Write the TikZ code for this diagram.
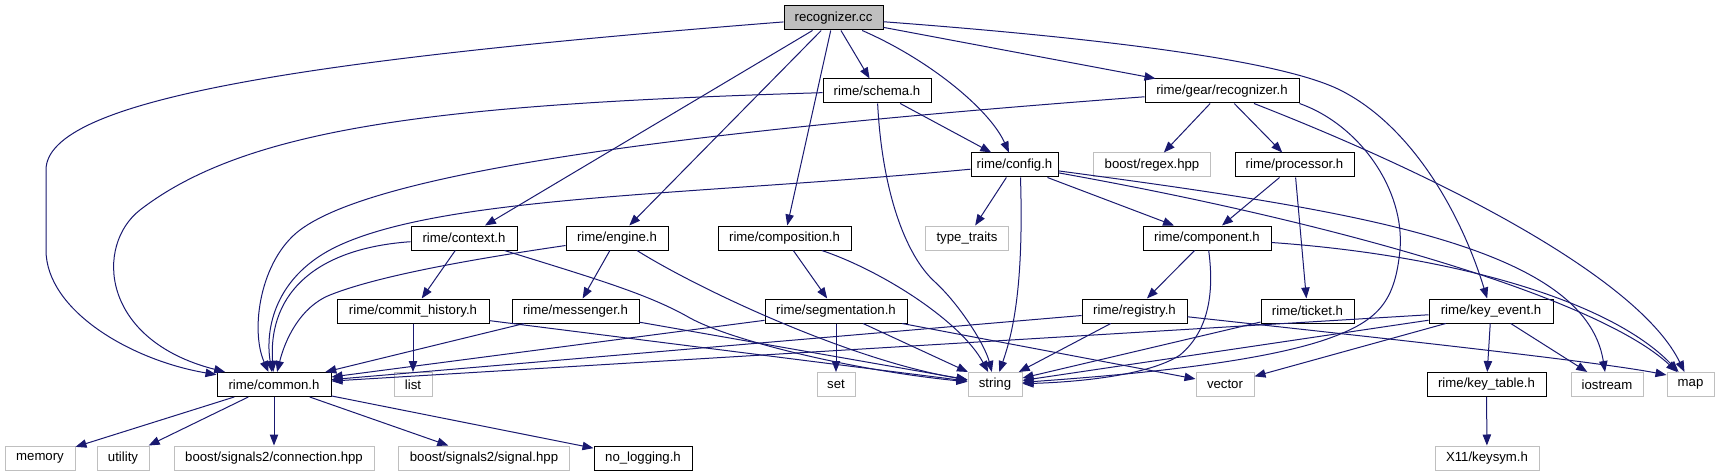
\documentclass[tikz,border=0pt]{standalone}
\usepackage{fontspec}
\setmainfont{Liberation Sans}
\usetikzlibrary{arrows.meta}
\definecolor{edgec}{HTML}{191970}
\definecolor{grayb}{HTML}{BFBFBF}
\begin{document}
\begin{tikzpicture}[x=0.5pt,y=-0.5pt,
  box/.style={rectangle, draw=black, line width=0.5pt, minimum height=12pt, inner sep=0pt, font=\fontsize{6.6}{8}\selectfont},
  ext/.style={box, draw=grayb},
  root/.style={box, fill=grayb},
  dep/.style={draw=edgec, line width=0.5pt, -{Triangle[length=5.5pt,width=4.2pt]}}]
\useasboundingbox[fill=white] (0,0) rectangle (1720,476);
% row 1
\node[root, minimum width=49.5pt] (cc) at (833.5,18) {recognizer.cc};
% row 2
\node[box, minimum width=54pt] (schema) at (877,91) {rime/schema.h};
\node[box, minimum width=77pt] (gear) at (1222,91) {rime/gear/recognizer.h};
% row 3
\node[box, minimum width=43.5pt] (config) at (1014.5,165) {rime/config.h};
\node[ext, minimum width=58.5pt] (regex) at (1152,165) {boost/regex.hpp};
\node[box, minimum width=59.5pt] (processor) at (1294.5,165) {rime/processor.h};
% row 4
\node[box, minimum width=53pt] (context) at (464,238) {rime/context.h};
\node[box, minimum width=51pt] (engine) at (617,238) {rime/engine.h};
\node[box, minimum width=66.5pt] (composition) at (784.5,238) {rime/composition.h};
\node[ext, minimum width=41.5pt] (typetraits) at (967,238) {type\_traits};
\node[box, minimum width=64pt] (component) at (1207,238) {rime/component.h};
% row 5
\node[box, minimum width=76pt] (commit) at (413,311) {rime/commit\_history.h};
\node[box, minimum width=63.5pt] (messenger) at (575.5,311) {rime/messenger.h};
\node[box, minimum width=71pt] (segmentation) at (836,311) {rime/segmentation.h};
\node[box, minimum width=52.5pt] (registry) at (1134.5,311) {rime/registry.h};
\node[box, minimum width=46.5pt] (ticket) at (1307.5,311) {rime/ticket.h};
\node[box, minimum width=62pt] (keyevent) at (1491,311) {rime/key\_event.h};
% row 6
\node[box, minimum width=57pt] (common) at (274,384.5) {rime/common.h};
\node[ext, minimum width=19pt] (list) at (413,384.5) {list};
\node[ext, minimum width=19pt] (set) at (836,384.5) {set};
\node[ext, minimum width=27pt] (string) at (995,384.5) {string};
\node[ext, minimum width=29pt] (vector) at (1225,384.5) {vector};
\node[box, minimum width=59.5pt] (keytable) at (1486.5,384.5) {rime/key\_table.h};
\node[ext, minimum width=36pt] (iostream) at (1607,384.5) {iostream};
\node[ext, minimum width=23.5pt] (map) at (1690.5,384.5) {map};
% row 7
\node[ext, minimum width=35pt] (memory) at (40,458) {memory};
\node[ext, minimum width=26pt] (utility) at (123,458) {utility};
\node[ext, minimum width=100pt] (connection) at (274,458) {boost/signals2/connection.hpp};
\node[ext, minimum width=85.5pt] (signal) at (484,458) {boost/signals2/signal.hpp};
\node[box, minimum width=49pt] (nologging) at (643,458) {no\_logging.h};
\node[ext, minimum width=52pt] (keysym) at (1487,458) {X11/keysym.h};

% recognizer.cc
\draw[dep] (cc) .. controls (300,60) and (46,100) .. (46,170) -- (46,250) .. controls (46,310) and (130,360) .. (common);
\draw[dep] (cc) -- (context);
\draw[dep] (cc) -- (engine);
\draw[dep] (cc) -- (composition);
\draw[dep] (cc) -- (schema);
\draw[dep] (cc) .. controls (930,60) and (990,110) .. (config);
\draw[dep] (cc) -- (gear);
\draw[dep] (cc) .. controls (1100,38) and (1280,60) .. (1340,90) .. controls (1410,125) and (1460,210) .. (keyevent);
% schema
\draw[dep] (schema) .. controls (450,104) and (250,125) .. (140,210) .. controls (95,245) and (100,340) .. (common);
\draw[dep] (schema) -- (config);
\draw[dep] (schema) .. controls (882,190) and (905,255) .. (935,282) .. controls (960,305) and (985,345) .. (string);
% gear/recognizer
\draw[dep] (gear) .. controls (700,130) and (380,170) .. (300,230) .. controls (260,260) and (250,330) .. (common);
\draw[dep] (gear) -- (regex);
\draw[dep] (gear) -- (processor);
\draw[dep] (gear.south east) .. controls (1360,125) and (1405,190) .. (1400,250) .. controls (1395,300) and (1380,320) .. (1330,338) .. controls (1250,367) and (1080,378) .. (string);
\draw[dep] (gear) .. controls (1450,180) and (1640,280) .. (map);
% config
\draw[dep] (config) .. controls (700,195) and (450,195) .. (340,245) .. controls (274,275) and (265,330) .. (common);
\draw[dep] (config) -- (typetraits);
\draw[dep] ([xshift=3pt]config.south) .. controls (1024,290) and (1012,335) .. (string);
\draw[dep] (config) -- (component);
\draw[dep] (config) .. controls (1350,210) and (1585,245) .. (iostream);
\draw[dep] (config) .. controls (1350,225) and (1600,300) .. (map);
% processor
\draw[dep] (processor) -- (component);
\draw[dep] (processor) -- (ticket);
% component
\draw[dep] (component) -- (registry);
\draw[dep] (component) .. controls (1214,290) and (1210,330) .. (1180,355) .. controls (1150,375) and (1080,382) .. (string);
\draw[dep] (component) .. controls (1450,255) and (1610,300) .. (map);
% context
\draw[dep] (context) .. controls (320,248) and (268,290) .. (common);
\draw[dep] (context) -- (commit);
\draw[dep] (context) .. controls (600,280) and (650,295) .. (690,318) .. controls (730,340) and (850,370) .. (string);
% engine
\draw[dep] (engine) .. controls (480,258) and (380,275) .. (330,295) .. controls (300,307) and (285,340) .. (common);
\draw[dep] (engine) -- (messenger);
\draw[dep] (engine) .. controls (700,290) and (850,360) .. (string);
% composition
\draw[dep] (composition) -- (segmentation);
\draw[dep] (composition) .. controls (880,270) and (960,320) .. (string);
% commit history
\draw[dep] (commit) -- (list);
\draw[dep] (commit) -- (string);
% messenger
\draw[dep] (messenger) -- (common);
\draw[dep] (messenger) -- (string);
% segmentation
\draw[dep] (segmentation) -- (common);
\draw[dep] (segmentation) -- (set);
\draw[dep] (segmentation) -- (string);
\draw[dep] (segmentation) -- (vector);
% registry
\draw[dep] (registry) -- (common);
\draw[dep] (registry) -- (string);
\draw[dep] (registry) .. controls (1400,340) and (1600,362) .. ([yshift=-1.5pt]map.north west);
% ticket
\draw[dep] (ticket) -- (string);
% key_event
\draw[dep] (keyevent) -- (common);
\draw[dep] (keyevent) -- (string);
\draw[dep] (keyevent) -- (vector);
\draw[dep] (keyevent) -- (keytable);
\draw[dep] (keyevent) -- (iostream);
% key_table
\draw[dep] (keytable) -- (keysym);
% common
\draw[dep] (common) -- (memory);
\draw[dep] (common) -- (utility);
\draw[dep] (common) -- (connection);
\draw[dep] (common) -- (signal);
\draw[dep] (common) -- (nologging);
\end{tikzpicture}
\end{document}
